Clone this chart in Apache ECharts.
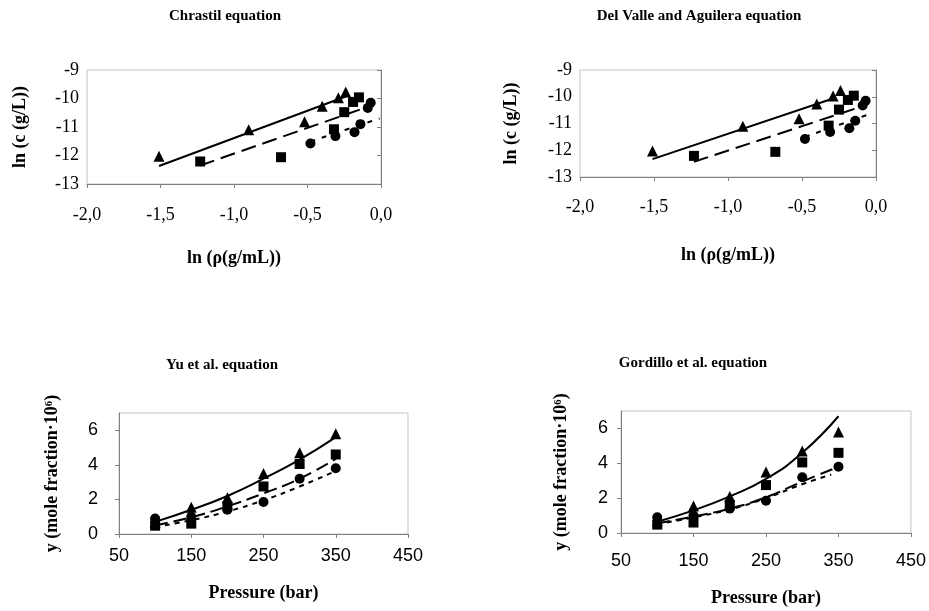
<!DOCTYPE html>
<html>
<head>
<meta charset="utf-8">
<script src="https://cdn.jsdelivr.net/npm/echarts@6/dist/echarts.min.js"></script>
<style>
html, body { margin: 0; padding: 0; background: #fff; }
#main { width: 929px; height: 611px; }
</style>
</head>
<body>
<div id="main"></div>
<script>
var dom = document.getElementById("main");
var myChart = echarts.init(dom);

// ln(rho) / ln(c) experimental points (top charts)
var triLnRho = [-1.51, -0.90, -0.52, -0.40, -0.29, -0.24];
var triLnC   = [-12.03, -11.10, -10.82, -10.27, -9.97, -9.77];
var sqLnRho  = [-1.23, -0.68, -0.32, -0.25, -0.19, -0.15];
var sqLnC    = [-12.21, -12.06, -11.08, -10.48, -10.12, -9.96];
var cirLnRho = [-0.48, -0.31, -0.18, -0.14, -0.09, -0.07];
var cirLnC   = [-11.58, -11.32, -11.18, -10.90, -10.33, -10.15];

// fitted lines, end points
var chrSolidX = [-1.51, -0.24], chrSolidY = [-12.37, -9.93];
var chrDashX  = [-1.23, -0.10], chrDashY  = [-12.35, -10.31];
var chrDotX   = [-0.48, -0.01], chrDotY   = [-11.51, -10.70];
var dvaSolidX = [-1.51, -0.27], dvaSolidY = [-12.33, -10.03];
var dvaDashX  = [-1.23, -0.10], dvaDashY  = [-12.43, -10.37];
var dvaDotX   = [-0.48, -0.06], dvaDotY   = [-11.50, -10.68];

// pressure / mole fraction points (bottom charts)
var pressure = [100, 150, 200, 250, 300, 350];
var yTri = [0.70, 1.55, 2.10, 3.50, 4.70, 5.80];
var ySq  = [0.48, 0.60, 1.60, 2.75, 4.05, 4.60];
var yCir = [0.90, 1.00, 1.40, 1.85, 3.20, 3.80];

var yuSolid  = [0.70, 1.40, 2.20, 3.20, 4.30, 5.60];
var yuDash   = [0.50, 0.97, 1.60, 2.35, 3.20, 4.35];
var yuDot    = [0.40, 0.80, 1.30, 1.95, 2.75, 3.65];
var gorPress = [100, 150, 200, 250, 300, 350];
var gorSolid = [0.65, 1.30, 2.10, 3.10, 4.60, 6.70];
var gorDash  = [0.55, 0.95, 1.40, 2.05, 2.95, 3.80];
var gorDotP  = [100, 150, 200, 250, 300, 340];
var gorDot   = [0.50, 0.90, 1.35, 2.00, 2.80, 3.35];

function zip(a, b) {
	var res = [];
	for (var i = 0; i < a.length; i++) res.push([a[i], b[i]]);
	return res;
}

var serif = "'Liberation Serif', 'DejaVu Serif', serif";
var sans = "'Liberation Sans', Arial, sans-serif";
var gray = '#7f7f7f';

function scatter(idx, sym, data) {
	return {
		type: 'scatter', xAxisIndex: idx, yAxisIndex: idx, z: 3,
		symbol: sym, symbolSize: sym === 'triangle' ? 11 : 10,
		itemStyle: { color: '#000', opacity: 1 },
		data: data
	};
}
function line(idx, data, dash) {
	return {
		type: 'line', xAxisIndex: idx, yAxisIndex: idx, z: 2,
		showSymbol: false, symbol: 'none', smooth: true,
		lineStyle: { color: '#000', width: 2, type: dash },
		data: data
	};
}

function xAx(idx, min, max, interval, name, nameGap, margin, font, fmt) {
	return {
		gridIndex: idx, type: 'value', min: min, max: max, interval: interval,
		name: name, nameLocation: 'middle', nameGap: nameGap,
		nameTextStyle: { fontFamily: serif, fontWeight: 'bold', fontSize: 18, color: '#000' },
		axisLine: { show: true, lineStyle: { color: gray } },
		axisTick: { show: true, length: 4, lineStyle: { color: gray } },
		axisLabel: { margin: margin, fontFamily: font, fontSize: 18, color: '#000', formatter: fmt },
		splitLine: { show: false }
	};
}
function yAx(idx, min, max, interval, name, nameGap, margin, font, hideMax) {
	return {
		gridIndex: idx, type: 'value', min: min, max: max, interval: interval,
		name: name, nameLocation: 'middle', nameGap: nameGap,
		nameTextStyle: { fontFamily: serif, fontWeight: 'bold', fontSize: 18, color: '#000' },
		axisLine: { show: true, lineStyle: { color: gray } },
		axisTick: { show: true, length: 4, lineStyle: { color: gray } },
		axisLabel: { margin: margin, fontFamily: font, fontSize: 18, color: '#000', showMaxLabel: !hideMax },
		splitLine: { show: false }
	};
}

var commaFmt = function (v) { return v.toFixed(1).replace('.', ','); };
var titleStyle = { fontFamily: serif, fontWeight: 'bold', fontSize: 15, color: '#000' };

var option = {
	backgroundColor: '#fff',
	animation: false,
	title: [
		{ text: 'Chrastil equation', left: 220, top: 4, textAlign: 'center', textStyle: titleStyle },
		{ text: 'Del Valle and Aguilera equation', left: 694, top: 4, textAlign: 'center', textStyle: titleStyle },
		{ text: 'Yu et al. equation', left: 217, top: 353, textAlign: 'center', textStyle: titleStyle },
		{ text: 'Gordillo et al. equation', left: 688, top: 351, textAlign: 'center', textStyle: titleStyle }
	],
	grid: [
		{ left: 87, top: 70, width: 294, height: 114, show: true, borderColor: '#c4c4c4', borderWidth: 1 },
		{ left: 580, top: 70, width: 296, height: 107, show: true, borderColor: '#c4c4c4', borderWidth: 1 },
		{ left: 119, top: 413, width: 289, height: 121, show: true, borderColor: '#c4c4c4', borderWidth: 1 },
		{ left: 621, top: 411, width: 291, height: 122, show: true, borderColor: '#c4c4c4', borderWidth: 1 }
	],
	xAxis: [
		xAx(0, -2, 0, 0.5, 'ln (ρ(g/mL))', 65, 22, serif, commaFmt),
		xAx(1, -2, 0, 0.5, 'ln (ρ(g/mL))', 69, 21, serif, commaFmt),
		xAx(2, 50, 450, 100, 'Pressure (bar)', 50, 13, sans),
		xAx(3, 50, 450, 100, 'Pressure (bar)', 56, 19, sans)
	],
	yAxis: [
		yAx(0, -13, -9, 1, 'ln (c (g/L))', 58, 8, serif, false),
		yAx(1, -13, -9, 1, 'ln (c (g/L))', 60, 8, serif, false),
		yAx(2, 0, 7, 2, 'y (mole fraction·10⁶)', 58, 21, sans, true),
		yAx(3, 0, 7, 2, 'y (mole fraction·10⁶)', 51, 13, sans, true)
	],
	series: [
		line(0, zip(chrSolidX, chrSolidY), 'solid'),
		line(0, zip(chrDashX, chrDashY), [15, 7]),
		line(0, zip(chrDotX, chrDotY), [5, 7]),
		scatter(0, 'triangle', zip(triLnRho, triLnC)),
		scatter(0, 'rect', zip(sqLnRho, sqLnC)),
		scatter(0, 'circle', zip(cirLnRho, cirLnC)),

		line(1, zip(dvaSolidX, dvaSolidY), 'solid'),
		line(1, zip(dvaDashX, dvaDashY), [15, 7]),
		line(1, zip(dvaDotX, dvaDotY), [5, 7]),
		scatter(1, 'triangle', zip(triLnRho, triLnC)),
		scatter(1, 'rect', zip(sqLnRho, sqLnC)),
		scatter(1, 'circle', zip(cirLnRho, cirLnC)),

		line(2, zip(pressure, yuSolid), 'solid'),
		line(2, zip(pressure, yuDash), [13, 6]),
		line(2, zip(pressure, yuDot), [5, 5]),
		scatter(2, 'triangle', zip(pressure, yTri)),
		scatter(2, 'rect', zip(pressure, ySq)),
		scatter(2, 'circle', zip(pressure, yCir)),

		line(3, zip(gorPress, gorSolid), 'solid'),
		line(3, zip(gorPress, gorDash), [13, 6]),
		line(3, zip(gorDotP, gorDot), [5, 5]),
		scatter(3, 'triangle', zip(pressure, yTri)),
		scatter(3, 'rect', zip(pressure, ySq)),
		scatter(3, 'circle', zip(pressure, yCir))
	]
};
if (option && typeof option === "object") {
	myChart.setOption(option, true);
}
</script>
</body>
</html>
